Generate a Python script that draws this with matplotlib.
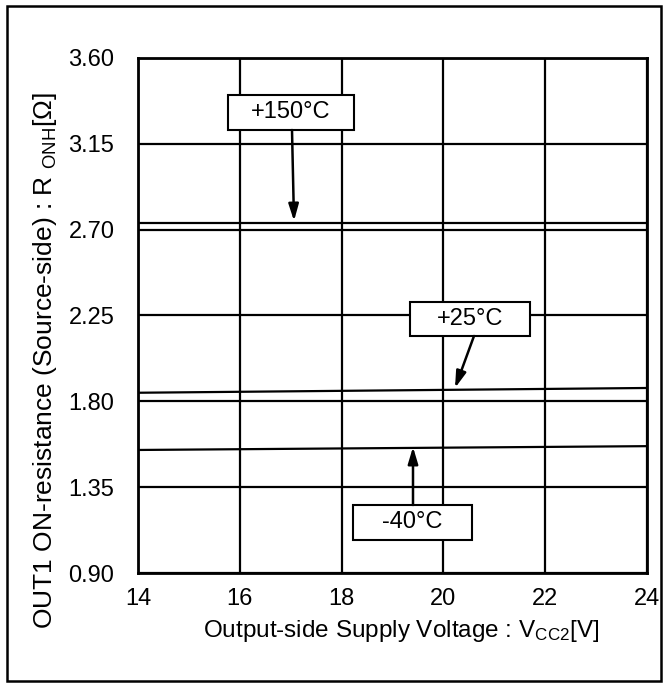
import matplotlib
matplotlib.use("Agg")
import matplotlib.pyplot as plt
from matplotlib.patches import Rectangle

plt.rcParams['font.family'] = ['Liberation Sans', 'DejaVu Sans']
plt.rcParams['mathtext.fontset'] = 'custom'
plt.rcParams['mathtext.rm'] = 'Liberation Sans'
plt.rcParams['mathtext.it'] = 'Liberation Sans'

# Data
vcc2 = [14, 16, 18, 20, 22, 24]
r_150 = [2.737, 2.737, 2.737, 2.737, 2.737, 2.737]
r_25 = [1.845, 1.850, 1.855, 1.860, 1.865, 1.870]
r_m40 = [1.545, 1.549, 1.553, 1.557, 1.561, 1.565]
x_ticks = [14, 16, 18, 20, 22, 24]
y_ticks = [0.90, 1.35, 1.80, 2.25, 2.70, 3.15, 3.60]
labels = ['+150°C', '+25°C', '-40°C']
xlabel = r"Output-side Supply Voltage : V$_{\mathrm{CC2}}$[V]"
ylabel = r"OUT1 ON-resistance (Source-side) : R $_{\mathrm{ONH}}$[Ω]"

W, H = 668, 687
fig = plt.figure(figsize=(W / 100, H / 100), dpi=100)
ax = fig.add_axes([138 / W, 1 - 573 / H, (647 - 138) / W, (573 - 58) / H])

for y in (r_150, r_25, r_m40):
    ax.plot(vcc2, y, color='black', lw=1.6, zorder=3)

ax.set_xlim(14, 24)
ax.set_ylim(0.90, 3.60)
ax.set_xticks(x_ticks)
ax.set_yticks(y_ticks)
ax.set_yticklabels([f"{v:.2f}" for v in y_ticks])
ax.grid(True, color='black', lw=1.6)
ax.tick_params(length=0, labelsize=17, colors='black')
ax.tick_params(axis='x', pad=11)
ax.tick_params(axis='y', pad=17)
for s in ax.spines.values():
    s.set_linewidth(2)
    s.set_color('black')

fig.text(401 / W, 1 - 631 / H, xlabel, fontsize=17.5, ha='center', va='center')
fig.text(45 / W, 1 - 361 / H, ylabel, fontsize=19, ha='center', va='center', rotation=90)


def px(xp, yp):
    return ax.transData.inverted().transform(fig.transFigure.transform((xp / W, 1 - yp / H)))


# label boxes (pixel extents) and arrows
boxes = [((228, 95, 354, 130), (292, 130), (294, 221)),
         ((410, 302, 530, 336), (474, 336), (455, 388)),
         ((353, 505, 472, 540), (413, 505), (413, 447))]
for lab, ((x0, y0, x1, y1), start, tip) in zip(labels, boxes):
    a = px(x0, y1)
    b = px(x1, y0)
    ax.add_patch(Rectangle(a, b[0] - a[0], b[1] - a[1], fc='white', ec='black', lw=1.5, zorder=5))
    c = px((x0 + x1) / 2, (y0 + y1) / 2)
    ax.text(c[0], c[1], lab, fontsize=17, ha='center', va='center', zorder=6)
    ax.annotate('', xy=px(*tip), xytext=px(*start),
                arrowprops=dict(arrowstyle='-|>,head_width=0.3,head_length=1.0', color='black',
                                lw=1.8, shrinkA=0, shrinkB=0), zorder=5)

fig.patches.append(Rectangle((7 / W, 1 - 681 / H), (661 - 7) / W, (681 - 6) / H,
                             transform=fig.transFigure, fill=False, ec='black', lw=1.8))

fig.savefig('out.png', dpi=100)
